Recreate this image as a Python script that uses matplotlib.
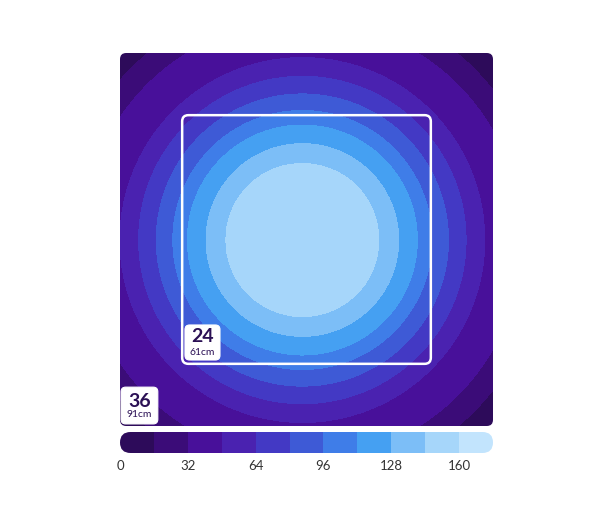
import numpy as np
import matplotlib
matplotlib.use("Agg")
import matplotlib.pyplot as plt
from matplotlib.patches import FancyBboxPatch
from matplotlib.colors import ListedColormap, BoundaryNorm

# ---- data ----
radius_in = [0.0, 7.4, 9.3, 11.1, 12.5, 14.1, 15.8, 17.6, 21.2, 23.4, 27.0]
ppfd = [158, 144, 128, 112, 96, 80, 64, 48, 32, 16, 4]
levels = [0, 16, 32, 48, 64, 80, 96, 112, 128, 144, 160, 176]
level_colors = ["#2d0b5a", "#3b0c78", "#48109a", "#4a22b0", "#4339c4",
                "#3e5ad6", "#3f7de8", "#45a0f2", "#7cbef7", "#a6d6fa", "#c2e4fd"]
tick_values = [0, 32, 64, 96, 128, 160]
tent_size_in = 36
footprint_in = 24
outer_label = ("36", "91cm")
inner_label = ("24", "61cm")
hotspot_center = (17.6, 17.95)

plt.rcParams['font.family'] = ['Lato', 'DejaVu Sans']
fig = plt.figure(figsize=(6.0, 5.07), dpi=100)
fig.patch.set_facecolor("white")

# ---- map ----
ax = fig.add_axes([120 / 600, 81 / 507, 373 / 600, 373 / 507])
ax.set_xlim(0, tent_size_in)
ax.set_ylim(0, tent_size_in)
ax.axis("off")

g = np.linspace(0, tent_size_in, 500)
X, Y = np.meshgrid(g, g)
R = np.hypot(X - hotspot_center[0], Y - hotspot_center[1])
Z = np.interp(R, radius_in, ppfd)
cs = ax.contourf(X, Y, Z, levels=levels, colors=level_colors)
clip = FancyBboxPatch((0, 0), tent_size_in, tent_size_in,
                      boxstyle="round,pad=0,rounding_size=0.6",
                      transform=ax.transData, fc="none", ec="none")
ax.add_patch(clip)
cs.set_clip_path(clip)

off = (tent_size_in - footprint_in) / 2
ax.add_patch(FancyBboxPatch((off, off), footprint_in, footprint_in,
                            boxstyle="round,pad=0,rounding_size=0.6",
                            fill=False, ec="white", lw=1.8, zorder=3))

txt_color = "#2b1055"
# inner label box
ax.add_patch(FancyBboxPatch((6.27, 6.37), 3.38, 3.38,
                            boxstyle="round,pad=0,rounding_size=0.45",
                            fc="white", ec="white", lw=0.8, zorder=4))
ax.text(7.96, 8.6, inner_label[0], ha="center", va="center", fontsize=14,
        fontweight="bold", color=txt_color, zorder=5)
ax.text(7.96, 7.05, inner_label[1], ha="center", va="center", fontsize=7.5,
        color=txt_color, zorder=5)
# outer label box
ax.add_patch(FancyBboxPatch((0.1, 0.2), 3.55, 3.55,
                            boxstyle="round,pad=0,rounding_size=0.45",
                            fc="white", ec="white", lw=0.8, zorder=4))
ax.text(1.9, 2.4, outer_label[0], ha="center", va="center", fontsize=14,
        fontweight="bold", color=txt_color, zorder=5)
ax.text(1.9, 1.08, outer_label[1], ha="center", va="center", fontsize=7.5,
        color=txt_color, zorder=5)

# ---- colorbar ----
cax = fig.add_axes([120 / 600, 54 / 507, 373 / 600, 21 / 507])
cax.set_xlim(levels[0], levels[-1])
cax.set_ylim(0, 1)
cax.axis("off")
cmap = ListedColormap(level_colors)
norm = BoundaryNorm(levels, cmap.N)
bars = cax.bar(levels[:-1], 1, width=np.diff(levels), align="edge",
               color=[cmap(norm(v)) for v in levels[:-1]], lw=0)
pill = FancyBboxPatch((0, 0), 1, 1, boxstyle="round,pad=0,rounding_size=0.5",
                      transform=cax.transAxes, fc="none", ec="none")
cax.add_patch(pill)
bb = cax.get_window_extent()
aspect = bb.width / bb.height
pill.set_mutation_aspect(aspect)
pill.set_boxstyle("round,pad=0,rounding_size=%f" % (0.5 / aspect))
for b in bars:
    b.set_clip_path(pill)

for v in tick_values:
    x = fig.transFigure.inverted().transform(cax.transData.transform((v, 0)))[0]
    fig.text(x, 41 / 507, str(v), ha="center", va="center", fontsize=9.5,
             color="#333333")

fig.savefig("out.png", dpi=100, facecolor="white")
